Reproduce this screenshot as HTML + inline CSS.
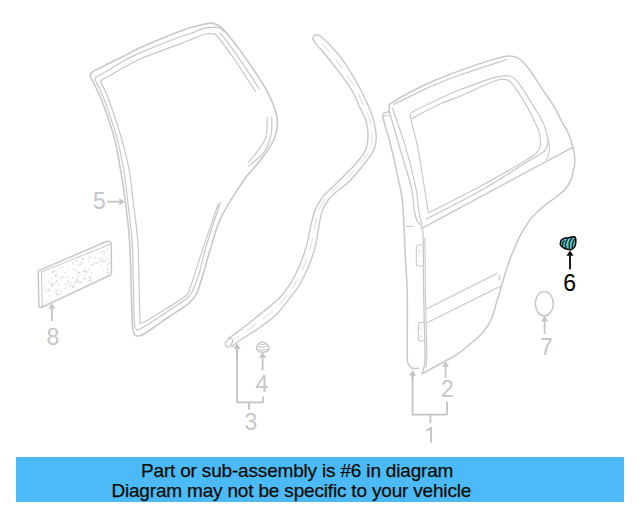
<!DOCTYPE html>
<html><head><meta charset="utf-8">
<style>
html,body{margin:0;padding:0;background:#fff;width:640px;height:512px;overflow:hidden;position:relative}
svg{position:absolute;left:0;top:0}
.banner{position:absolute;left:16px;top:457px;width:608px;height:45px;background:#4cbaf7}
.t{position:absolute;font-family:"Liberation Sans",sans-serif;font-size:19px;line-height:19px;letter-spacing:-0.18px;color:#0c0c04;white-space:nowrap;-webkit-text-stroke:0.25px #0c0c04}
</style></head><body>
<div class="banner"></div>
<div class="t" style="left:141px;top:461px">Part or sub-assembly is #6 in diagram</div>
<div class="t" style="left:111.4px;top:480.6px">Diagram may not be specific to your vehicle</div>
<svg width="640" height="512" viewBox="0 0 640 512" fill="none" stroke="#c8c8c8" stroke-width="1.4" stroke-linecap="round" stroke-linejoin="round">
<path d="M90.2 76.2 C90.0 74.7 90.0 73.9 91.6 72.6 C93.2 71.2 94.2 70.9 99.6 68.1 C105.0 65.3 117.2 59.4 124.0 56.0 C130.8 52.6 131.0 51.7 140.6 47.5 C150.2 43.3 171.4 34.5 181.3 30.8 C191.2 27.1 195.2 26.5 200.0 25.2 C204.8 23.9 207.3 23.1 210.3 23.1 C213.3 23.1 215.5 23.7 218.1 25.2 C220.7 26.7 222.8 28.7 225.9 32.2 C229.0 35.7 232.5 40.3 236.9 46.2 C241.3 52.2 247.3 60.3 252.5 68.1 C257.7 75.9 264.0 85.0 268.1 93.1 C272.2 101.2 275.7 109.5 276.9 116.7 C278.1 123.9 277.4 129.8 275.2 136.4 C273.0 143.0 268.3 149.4 263.7 156.0 C259.1 162.6 251.2 170.8 247.3 175.8 C243.4 180.8 244.4 179.0 240.0 186.0 C235.6 193.0 225.7 207.5 220.8 217.9 C215.9 228.3 213.3 239.7 210.6 248.4 C207.8 257.1 206.0 264.1 204.3 270.0 C202.6 275.9 201.6 279.6 200.2 283.7 C198.8 287.8 198.1 291.2 196.1 294.6 C194.1 298.0 192.2 300.6 187.9 304.2 C183.6 307.8 175.7 312.1 170.0 316.0 C164.3 319.9 157.8 324.7 153.7 327.5 C149.6 330.3 147.8 331.6 145.4 333.0 C143.0 334.4 140.8 335.8 139.0 336.0 C137.2 336.2 135.5 335.7 134.5 334.5 C133.5 333.3 133.2 331.4 132.8 329.0 C132.4 326.6 132.5 328.2 132.2 320.0 C131.9 311.8 131.4 293.3 131.0 280.0 C130.6 266.7 130.4 253.2 129.5 240.0 C128.6 226.8 126.8 212.7 125.3 201.0 C123.8 189.3 122.5 180.8 120.6 170.0 C118.7 159.2 117.0 147.8 113.8 136.0 C110.5 124.2 104.8 108.5 101.3 99.5 C97.8 90.5 94.8 85.7 93.0 81.8 C91.2 77.9 90.5 77.7 90.2 76.2Z" stroke-width="1.6"/>
<path d="M224.0 31.5 C223.4 31.0 221.7 29.3 220.5 28.6 C219.3 27.9 219.3 27.5 216.7 27.4 C214.1 27.3 209.4 27.1 205.0 28.2 C200.6 29.3 193.9 32.4 190.0 33.8 C186.1 35.1 189.5 33.2 181.3 36.3 C173.1 39.4 150.2 48.5 140.6 52.6 C131.0 56.7 129.5 57.7 124.0 60.7 C118.5 63.7 111.9 68.2 107.4 70.8 C103.0 73.4 99.4 75.3 97.3 76.6 C95.2 77.9 95.2 77.8 95.0 78.8 C94.8 79.8 95.0 79.6 96.3 82.5 C97.6 85.4 99.4 87.1 102.8 96.0 C106.1 104.9 113.0 123.7 116.5 136.0 C120.0 148.3 121.9 159.2 123.8 170.0 C125.6 180.8 126.3 189.3 127.7 201.0 C129.0 212.7 131.1 226.8 132.0 240.0 C132.9 253.2 132.9 266.3 133.3 280.0 C133.7 293.7 134.0 313.9 134.4 322.0 C134.8 330.1 135.1 327.3 136.0 328.5 C136.9 329.7 135.5 331.3 140.0 329.0 C144.5 326.7 155.2 319.6 163.0 314.5 C170.8 309.4 181.7 302.3 186.5 298.5 C191.3 294.7 190.2 295.3 192.0 291.9 C193.8 288.5 196.1 281.8 197.5 278.2 C198.9 274.6 198.9 275.0 200.2 270.0 C201.5 265.0 202.2 259.6 205.5 248.4 C208.8 237.2 217.8 210.3 220.3 202.7" stroke-width="1.2"/>
<path d="M219.5 33.2 C220.2 33.9 220.4 33.2 223.5 37.2 C226.6 41.2 232.4 48.7 238.3 57.2 C244.2 65.7 255.6 83.2 259.0 88.4" stroke-width="1.2"/>
<path d="M271.8 117.1 C271.7 120.0 272.3 128.8 271.0 134.7 C269.7 140.6 267.8 147.1 264.0 152.3 C260.2 157.5 251.0 163.7 248.4 166.0" stroke-width="1.2"/>
<path d="M255.6 91.6 C252.0 86.2 240.6 68.3 234.2 59.0 C227.8 49.7 220.6 40.2 217.0 36.0 C213.4 31.8 214.8 34.3 212.8 34.0 C210.8 33.7 208.8 33.0 205.0 34.0 C201.2 35.0 193.9 38.4 190.0 40.0 C186.1 41.6 189.5 40.3 181.3 43.4 C173.1 46.5 150.2 54.7 140.6 58.7 C131.0 62.7 128.9 64.6 124.0 67.3 C119.1 70.0 114.8 72.8 111.3 74.8 C107.8 76.8 104.7 78.2 103.0 79.3 C101.3 80.4 101.1 80.3 100.9 81.2 C100.7 82.1 100.7 82.0 101.8 84.5 C102.9 87.0 104.2 87.4 107.4 96.0 C110.6 104.6 117.2 123.7 120.8 136.0 C124.4 148.3 127.1 159.2 129.2 170.0 C131.2 180.8 131.7 189.3 133.1 201.0 C134.5 212.7 136.7 226.8 137.7 240.0 C138.7 253.2 138.6 267.0 139.0 280.0 C139.4 293.0 139.4 310.9 140.0 318.0 C140.6 325.1 138.3 324.2 142.5 322.8 C146.7 321.4 157.8 314.0 165.0 309.5 C172.2 305.0 181.5 299.2 185.5 296.0 C189.5 292.8 187.7 294.1 189.2 290.5 C190.7 286.9 193.5 277.9 194.7 274.1 C195.9 270.4 195.2 272.3 196.6 268.0 C198.0 263.7 199.4 259.1 203.0 248.4 C206.6 237.7 215.7 211.4 218.2 204.0" stroke-width="1.2"/>
<path d="M267.3 117.1 C267.1 120.3 267.5 131.1 266.0 136.6 C264.5 142.1 261.0 146.1 258.1 150.3 C255.2 154.5 250.0 160.1 248.4 162.0" stroke-width="1.2"/>
<path d="M313.9 41.0 C314.9 42.2 317.0 44.9 320.0 48.5 C323.0 52.1 327.8 57.7 331.7 62.6 C335.6 67.5 339.9 72.9 343.4 77.8 C346.9 82.7 350.2 87.4 352.8 91.9 C355.4 96.4 356.5 100.2 358.7 105.0 C360.9 109.8 364.4 115.6 366.0 120.5 C367.6 125.4 368.0 129.4 368.0 134.2 C368.0 139.0 367.7 144.6 366.0 149.2 C364.3 153.8 360.5 158.1 357.8 161.5 C355.1 164.9 353.9 165.8 350.0 169.8 C346.1 173.8 338.7 181.1 334.2 185.5 C329.7 189.9 326.3 192.5 323.2 196.4 C320.1 200.3 317.5 204.8 315.7 208.7 C313.9 212.6 313.3 216.0 312.3 219.6 C311.3 223.2 310.8 225.5 309.8 230.0 C308.8 234.5 308.1 240.5 306.4 246.4 C304.7 252.3 302.1 259.6 299.6 265.5 C297.1 271.4 294.8 276.4 291.4 281.9 C288.0 287.4 285.4 292.1 279.1 298.3 C272.8 304.5 260.8 313.5 253.8 319.2 C246.8 324.9 241.4 329.2 237.2 332.4 C233.0 335.6 230.0 337.2 228.6 338.2" stroke-width="1.4"/>
<path d="M320.7 36.2 C322.2 37.7 326.6 41.4 330.0 45.0 C333.4 48.6 337.7 53.4 341.1 57.9 C344.5 62.4 347.6 67.3 350.5 72.0 C353.4 76.7 355.8 80.5 358.7 86.0 C361.6 91.5 365.6 99.7 368.0 105.0 C370.4 110.3 371.4 112.7 372.8 117.8 C374.2 122.9 376.0 130.3 376.2 135.5 C376.4 140.7 375.9 144.9 374.2 149.2 C372.5 153.5 370.0 156.2 366.0 161.5 C362.0 166.8 354.6 175.9 350.0 180.7 C345.4 185.5 341.9 187.2 338.3 190.3 C334.8 193.4 331.3 195.9 328.7 199.2 C326.1 202.5 324.0 206.2 322.5 210.1 C321.0 214.0 320.2 218.9 319.5 222.4 C318.8 225.9 319.0 226.6 318.2 231.0 C317.4 235.4 316.3 242.9 314.6 249.1 C312.9 255.3 310.3 262.4 307.8 268.3 C305.3 274.2 302.2 280.1 299.6 284.6 C297.0 289.1 295.6 290.4 292.0 295.1 C288.4 299.8 283.2 307.5 277.9 312.9 C272.6 318.3 266.2 322.9 260.1 327.3 C254.0 331.7 245.8 336.3 241.1 339.5 C236.4 342.7 233.4 345.4 231.8 346.6" stroke-width="1.4"/>
<path d="M313.9 41 C311.5 38, 314 34, 317.3 34.8 C318.5 35, 319.8 35.5, 320.7 36.2" stroke-width="1.4"/>
<path d="M321.3 42.9 C321.9 43.5 323.6 45.4 324.9 46.8 C326.2 48.2 327.5 49.7 329.1 51.5 C330.7 53.3 332.7 55.7 334.3 57.6 C335.9 59.5 337.0 61.0 338.5 63.0 C340.0 64.9 341.7 67.3 343.2 69.4 C344.7 71.5 346.2 73.8 347.5 75.8 C348.8 77.7 349.8 79.2 350.9 81.0 C352.0 82.7 353.1 84.4 354.2 86.2 C355.3 88.1 356.5 90.3 357.4 92.1 C358.3 93.8 359.0 95.3 359.7 97.0 C360.5 98.6 361.2 100.3 361.9 101.9 C362.7 103.6 363.4 105.0 364.3 106.9 C365.1 108.7 366.3 111.1 367.2 113.1 C368.0 115.1 368.8 117.2 369.4 119.2 C370.0 121.1 370.5 123.2 370.9 125.0 C371.2 126.8 371.4 128.0 371.6 129.8 C371.8 131.6 372.1 133.7 372.1 135.8 C372.1 137.8 372.1 140.0 371.8 142.2 C371.4 144.5 370.8 147.1 370.0 149.1 C369.3 151.1 368.2 152.8 367.1 154.5 C366.1 156.2 364.7 157.9 363.6 159.4 C362.4 160.9 361.1 162.6 360.1 163.8 C359.2 165.0 358.6 165.7 357.8 166.6 C357.0 167.5 356.5 168.1 355.4 169.3 C354.3 170.5 352.9 172.0 351.1 173.9 C349.3 175.8 346.7 178.6 344.5 180.6 C342.3 182.7 339.8 184.7 337.8 186.5 C335.8 188.2 334.2 189.7 332.7 191.1 C331.2 192.4 330.0 193.4 328.8 194.6 C327.6 195.9 326.5 197.1 325.5 198.4 C324.4 199.8 323.5 201.2 322.6 202.7 C321.7 204.2 320.8 205.8 320.2 207.2 C319.5 208.5 319.0 209.5 318.5 210.9 C318.0 212.2 317.6 214.0 317.2 215.3 C316.8 216.7 316.6 217.7 316.4 218.9 C316.1 220.2 315.7 221.7 315.5 222.8 C315.2 224.0 315.1 224.7 314.8 226.0 C314.6 227.3 314.3 228.8 314.0 230.5 C313.7 232.2 313.3 234.2 312.9 236.3 C312.6 238.4 312.2 240.8 311.6 243.1 C311.1 245.4 310.5 247.7 309.8 250.1 C309.1 252.4 308.3 255.0 307.4 257.4 C306.5 259.8 305.6 262.3 304.6 264.6 C303.7 266.9 302.8 269.1 301.8 271.3 C300.8 273.4 299.9 275.3 298.8 277.5 C297.6 279.6 296.3 281.9 295.0 284.0 C293.7 286.1 292.5 287.9 291.0 290.0 C289.5 292.1 287.9 294.3 286.1 296.5 C284.3 298.7 282.8 300.7 280.1 303.5 C277.5 306.2 273.7 309.9 270.2 312.9 C266.8 315.8 262.6 318.9 259.5 321.3 C256.5 323.6 254.4 325.2 252.0 326.9 C249.6 328.7 247.2 330.4 245.0 331.9 C242.9 333.4 240.7 334.8 239.1 335.9 C237.6 337.1 236.1 338.1 235.4 338.6" stroke-width="0.9" stroke="#d6d6d6" stroke-dasharray="12 9"/>
<ellipse cx="229" cy="342.5" rx="3" ry="4.7" transform="rotate(35 229 342.5)" stroke-width="1.3"/>
<path d="M38.2 270.9 L106.5 241.5 Q111 240 111.3 245 L111.4 273.5 Q111.4 274.5 110 275.2 L42 307.3 Q38.8 308.3 38.8 305 Z" stroke-width="1.5"/>
<path d="M40.7 272.2 L110 244.4 M41.5 272.6 L42.3 306" stroke-width="1"/>
<path d="M73.4 277.6 l-0.9 0.2 M77.1 276.7 l0.8 0.5 M85.2 278.6 l0.7 0.2 M49.8 295.6 l-0.3 0.4 M108.3 272.2 l-0.5 0.9 M53.8 270.6 l-0.0 0.6 M56.1 276.2 l0.9 0.1 M72.8 285.8 l-0.1 1.1 M76.6 279.0 l0.1 0.7 M109.3 272.5 l-1.0 0.5 M64.3 272.3 l0.3 0.4 M93.9 264.0 l-0.8 0.4 M106.7 269.9 l0.7 0.0 M103.4 261.6 l-0.9 0.1 M48.6 290.9 l-0.6 0.5 M49.4 281.8 l-1.2 0.1 M51.4 278.4 l0.5 0.2 M95.8 257.3 l-0.2 0.9 M56.4 290.3 l1.0 0.4 M51.3 283.5 l0.6 0.5 M107.5 268.4 l0.7 1.1 M57.5 280.0 l-1.0 0.5 M50.6 300.5 l0.6 0.5 M94.3 261.9 l0.3 0.5 M49.7 289.0 l0.8 0.7 M68.1 277.0 l-0.9 0.1 M81.6 282.3 l0.5 0.3 M103.4 270.7 l0.5 0.5 M92.4 279.1 l1.1 0.8 M101.6 265.9 l0.1 0.6 M46.5 301.7 l0.8 0.8 M60.7 290.9 l-0.2 0.7 M55.4 290.4 l0.7 0.2 M80.6 282.4 l-0.3 0.7 M103.7 254.5 l0.7 0.0 M72.7 263.9 l0.7 0.4 M81.0 262.3 l0.5 1.2 M108.1 264.3 l-0.6 0.8 M52.7 271.7 l1.3 0.1 M89.9 280.9 l1.1 0.1 M75.5 281.4 l0.8 1.2 M48.7 288.4 l-0.9 1.0 M92.1 272.9 l-1.1 0.8 M66.9 284.1 l-1.2 0.4 M71.2 285.0 l-0.9 0.4 M84.6 267.6 l-0.3 1.0 M49.1 291.0 l-1.3 0.0 M91.4 264.8 l-0.7 0.8 M72.8 285.6 l1.1 0.3 M45.8 291.3 l0.0 0.7 M89.5 268.6 l-0.5 1.2 M60.3 267.8 l0.7 0.9 M56.9 273.8 l-1.0 0.3 M72.9 287.1 l0.6 0.9 M56.7 281.4 l-1.1 0.8 M101.3 260.3 l-0.2 0.8 M52.7 285.1 l-1.1 0.6 M90.6 280.3 l0.4 0.5 M73.2 269.7 l0.7 0.5 M84.7 270.6 l0.7 1.0 M108.0 259.1 l0.5 0.1 M100.7 251.6 l-0.6 0.8 M64.1 288.4 l0.6 0.0 M73.3 262.7 l-0.6 0.4 M52.8 272.0 l-0.4 0.8 M85.1 274.8 l-1.1 0.8 M88.4 261.0 l0.1 0.7 M44.4 288.1 l-0.4 0.5 M61.5 276.8 l-0.6 0.8 M84.1 278.1 l0.4 1.1 M102.9 251.8 l-1.1 0.2 M52.2 284.1 l-0.5 1.2 M68.5 280.1 l-1.1 0.5 M105.6 260.5 l-0.3 0.6 M91.2 276.4 l-0.5 1.0 M57.9 294.4 l-1.4 0.1 M79.1 281.4 l0.7 1.1 M99.7 260.1 l0.9 0.2 M79.9 280.3 l0.0 0.5 M96.5 253.9 l-0.5 0.4 M65.8 287.5 l0.6 0.3 M77.7 280.1 l-1.0 0.5 M105.7 261.2 l-0.6 0.1 M58.3 283.5 l0.7 0.9 M85.6 271.0 l-0.9 0.5 M64.1 276.7 l-1.2 0.6 M57.6 293.2 l-1.0 0.1 M81.1 264.2 l-0.1 0.9 M83.2 258.6 l-1.0 0.1 M70.1 285.8 l-0.2 0.9 M88.8 257.3 l-0.1 0.9 M106.6 271.9 l0.6 0.7 M52.0 283.6 l-1.1 0.7 M74.9 270.1 l0.9 0.6 M104.2 252.4 l-0.4 0.3 M56.3 275.7 l-0.4 0.7 M67.1 282.1 l1.1 0.4 M51.8 285.9 l0.5 0.5 M78.5 271.9 l0.3 0.8 M78.3 264.3 l0.9 0.6 M85.6 271.2 l-0.9 0.5 M99.7 257.0 l-0.8 0.9 M102.8 257.9 l0.7 1.1 M58.3 297.1 l-0.6 0.2 M59.5 288.7 l0.4 0.4 M98.2 262.6 l-0.5 0.4 M70.2 282.5 l0.7 0.0 M88.7 280.1 l-0.6 0.1 M77.0 281.4 l-0.0 1.1 M55.9 271.3 l0.5 0.2 M79.9 273.4 l-0.1 0.6 M55.7 275.3 l-1.2 0.7 M104.3 251.5 l1.3 0.3 M74.1 282.9 l0.5 0.8 M77.5 272.1 l-0.2 0.5 M89.8 277.8 l0.8 0.5 M92.1 264.9 l0.5 0.4 M77.1 260.8 l-1.2 0.4 M90.1 278.1 l-0.3 0.8 M83.0 271.7 l-1.2 0.1 M60.9 293.3 l-0.8 0.9 M97.1 262.7 l-1.2 0.4 M89.4 275.9 l-0.6 0.6 M90.9 256.5 l0.4 0.8 M44.4 284.7 l-0.4 1.0 M59.2 295.1 l-0.4 0.7 M87.0 271.7 l-0.1 0.8 M109.3 263.4 l-0.7 1.0 M107.7 248.1 l-0.4 1.1 M60.5 278.9 l0.7 0.1 M68.2 266.9 l0.9 0.9 M79.8 273.2 l-1.0 0.1 M109.0 263.4 l-0.5 0.3 M83.0 278.7 l1.3 0.2 M54.2 283.7 l0.8 0.5 M83.6 259.3 l-0.9 0.2 M78.3 276.4 l0.3 0.7 M86.7 271.6 l0.7 0.9 M62.9 266.8 l0.4 0.4 M54.1 292.0 l0.4 1.2" stroke="#cdcdcd" stroke-width="0.85"/>
<path d="M107.0 201.7 L119.3 201.7" stroke="#c4c4c4" stroke-width="1.8" stroke-linecap="butt"/>
<path d="M124.8 201.7 L119.3 205.2 L119.3 198.2 Z" fill="#c4c4c4" stroke="none"/>
<path d="M51.9 321.0 L51.9 308.7" stroke="#c4c4c4" stroke-width="1.8" stroke-linecap="butt"/>
<path d="M51.9 303.2 L55.4 308.7 L48.4 308.7 Z" fill="#c4c4c4" stroke="none"/>
<path d="M262.6 370.4 L262.6 357.8" stroke="#c4c4c4" stroke-width="1.8" stroke-linecap="butt"/>
<path d="M262.6 352.3 L266.2 357.8 L259.0 357.8 Z" fill="#c4c4c4" stroke="none"/>
<path d="M544.6 334.0 L544.6 321.5" stroke="#c4c4c4" stroke-width="1.8" stroke-linecap="butt"/>
<path d="M544.6 316.0 L548.1 321.5 L541.1 321.5 Z" fill="#c4c4c4" stroke="none"/>
<path d="M445.6 377.9 L445.6 366.7" stroke="#c4c4c4" stroke-width="1.8" stroke-linecap="butt"/>
<path d="M445.6 361.2 L449.1 366.7 L442.1 366.7 Z" fill="#c4c4c4" stroke="none"/>
<path d="M237.1 402.3 L237.1 348 M236.2 402.3 L263.1 402.3 L263.1 396.4 M249 402.3 L249 409.7" stroke="#c4c4c4" stroke-width="1.8" stroke-linecap="butt"/>
<path d="M237.1 360.0 L237.1 348.7" stroke="#c4c4c4" stroke-width="1.8" stroke-linecap="butt"/>
<path d="M237.1 343.2 L240.6 348.7 L233.6 348.7 Z" fill="#c4c4c4" stroke="none"/>
<path d="M412.6 414.6 L412.6 374 M411.7 414.6 L447 414.6 L447 401.5 M430.4 414.6 L430.4 423" stroke="#c4c4c4" stroke-width="1.8" stroke-linecap="butt"/>
<path d="M412.6 380.0 L412.6 375.8" stroke="#c4c4c4" stroke-width="1.8" stroke-linecap="butt"/>
<path d="M412.6 370.3 L416.1 375.8 L409.1 375.8 Z" fill="#c4c4c4" stroke="none"/>
<text x="93" y="209" font-family="Liberation Sans" font-size="23" fill="#c6c6c6" stroke="none">5</text>
<text x="46.5" y="345.3" font-family="Liberation Sans" font-size="23" fill="#c6c6c6" stroke="none">8</text>
<text x="255.4" y="392" font-family="Liberation Sans" font-size="23" fill="#c6c6c6" stroke="none">4</text>
<text x="244.5" y="430" font-family="Liberation Sans" font-size="23" fill="#c6c6c6" stroke="none">3</text>
<text x="540" y="355.4" font-family="Liberation Sans" font-size="23" fill="#c6c6c6" stroke="none">7</text>
<text x="441" y="397" font-family="Liberation Sans" font-size="23" fill="#c6c6c6" stroke="none">2</text>
<text x="563.3" y="290.8" font-family="Liberation Sans" font-size="23" fill="#000" stroke="none">6</text>
<path d="M431 442.6 L431 427.2 Q429.5 430 426.2 430.6" stroke="#c6c6c6" stroke-width="2" stroke-linecap="butt" stroke-linejoin="miter"/>
<ellipse cx="544.3" cy="303.6" rx="9" ry="12.2" stroke-width="1.5"/>
<path d="M262.2 341.6 C259 343, 256.5 345.5, 256.5 348.1 C256.5 350.8, 259.5 352.3, 262.6 352.3 C266 352.3, 269.2 350.5, 269.2 348.1 C269.2 345.5, 265.5 343, 262.2 341.6 Z" stroke-width="1.3"/>
<path d="M260 344 Q262.3 345.3 264.8 344 M257.8 346.5 Q262.5 348.3 267.3 346.3 M257 349.3 Q262.5 351 268.7 349" stroke-width="1.1"/>
<path d="M560.3 243.7 C560.4 242.9 560.7 241.4 561.1 240.6 C561.5 239.8 561.9 239.5 562.6 239.1 C563.4 238.7 564.6 238.3 565.6 238.1 C566.6 237.9 567.8 237.9 568.7 237.7 C569.6 237.5 570.3 237.2 571.2 237.1 C572.1 236.9 573.6 236.6 574.3 236.8 C575.0 237.1 575.4 237.8 575.6 238.6 C575.9 239.4 575.8 240.5 575.8 241.6 C575.8 242.7 575.7 244.1 575.3 245.2 C574.9 246.3 574.1 247.5 573.3 248.3 C572.4 249.1 571.4 249.7 570.2 249.8 C569.0 249.9 567.5 249.4 566.2 249.0 C564.9 248.6 563.5 247.8 562.6 247.2 C561.7 246.6 561.0 245.8 560.6 245.2 C560.2 244.6 560.2 244.5 560.3 243.7Z" fill="#5cc6f5" stroke="#000" stroke-width="1.5"/>
<path d="M564.1 240.9 C563.9 241.2 563.1 242.2 562.9 242.9 C562.6 243.6 562.6 244.8 562.6 245.2" stroke-width="1.5" stroke="#183c0c"/>
<path d="M567.4 239.6 C567.1 240.0 566.2 241.3 565.9 242.2 C565.6 243.1 565.4 244.3 565.4 245.2 C565.4 246.1 565.8 247.2 565.9 247.6" stroke-width="1.5" stroke="#183c0c"/>
<path d="M571.7 238.3 C571.4 238.9 570.1 240.4 569.7 241.6 C569.3 242.8 569.2 243.9 569.2 245.2 C569.2 246.5 569.5 248.6 569.5 249.3" stroke-width="1.5" stroke="#183c0c"/>
<path d="M574.5 239.3 C574.2 239.8 573.4 241.2 573.0 242.2 C572.6 243.2 572.4 244.2 572.3 245.2 C572.2 246.1 572.3 247.4 572.3 247.9" stroke-width="1.5" stroke="#183c0c"/>
<path d="M570.0 269.2 L570.0 255.8" stroke="#000" stroke-width="1.8" stroke-linecap="butt"/>
<path d="M570.0 250.6 L573.5 255.8 L566.5 255.8 Z" fill="#000" stroke="none"/>
<path d="M389.4 104.4 C392.0 102.8 398.2 98.7 405.0 95.0 C411.8 91.3 420.8 86.6 430.0 82.5 C439.2 78.4 449.2 74.5 460.0 70.6 C470.8 66.7 486.9 61.3 495.0 58.9 C503.1 56.5 504.8 56.0 508.7 55.9 C512.6 55.8 515.2 56.6 518.2 58.2 C521.2 59.9 523.4 62.3 526.4 65.8 C529.4 69.3 532.6 74.4 536.0 79.4 C539.4 84.4 543.7 91.0 546.9 95.8 C550.1 100.6 552.6 104.1 555.0 108.1 C557.4 112.1 558.9 116.0 561.0 120.0 C563.1 124.0 565.9 128.0 567.8 132.3 C569.7 136.6 571.5 141.9 572.6 146.0 C573.8 150.1 574.4 153.6 574.7 156.9 C575.0 160.2 574.7 163.8 574.5 166.0 C574.3 168.2 574.0 167.8 573.4 170.0 C572.8 172.2 572.4 176.3 571.1 179.4 C569.8 182.5 568.3 185.6 565.6 188.8 C562.9 191.9 558.6 195.0 554.7 198.1 C550.8 201.2 546.1 204.1 542.2 207.5 C538.3 210.9 534.6 214.2 531.2 218.4 C527.9 222.6 524.5 228.1 521.9 232.5 C519.3 236.9 518.1 239.7 515.8 245.0 C513.5 250.3 510.3 258.0 508.0 264.5 C505.7 271.0 504.1 277.5 502.1 284.0 C500.1 290.5 498.2 297.4 496.2 303.6 C494.3 309.8 493.0 316.0 490.4 321.2 C487.8 326.4 484.2 330.8 480.6 334.8 C477.0 338.8 473.0 341.6 468.9 345.0 C464.8 348.4 463.8 350.2 456.0 355.0 C448.2 359.8 427.7 370.6 422.0 373.7" stroke-width="1.5"/>
<path d="M389.4 104.4 L389.2 111.5 L383.6 113.4 Q382.5 114 382.8 116" stroke-width="1.4"/>
<path d="M382.8 116.0 C383.3 118.2 384.7 124.2 386.0 129.0 C387.3 133.8 389.2 139.2 390.6 144.7 C392.0 150.2 392.7 153.6 394.5 162.0 C396.3 170.4 400.1 185.8 401.6 195.2 C403.1 204.6 403.0 207.8 403.6 218.6 C404.2 229.4 404.9 247.3 405.5 260.0 C406.1 272.7 407.0 278.8 407.3 294.6 C407.6 310.4 407.1 343.4 407.3 355.0 C407.5 366.6 407.7 361.8 408.5 364.0 C409.3 366.2 410.6 367.5 412.3 368.2 C414.0 368.9 417.6 368.2 418.6 368.2" stroke-width="1.5"/>
<path d="M389.2 111.5 C390.2 114.8 393.0 124.0 395.0 131.0 C397.0 138.0 398.6 144.0 401.4 153.6 C404.2 163.2 409.4 178.9 411.6 188.7 C413.8 198.5 413.5 206.7 414.5 212.2 C415.5 217.7 416.3 219.1 417.5 221.5 C418.7 223.9 421.0 224.0 421.9 226.8 C422.8 229.6 422.8 226.8 423.1 238.1 C423.4 249.4 423.4 275.2 423.7 294.6 C424.0 314.1 425.0 342.4 425.0 354.8 C425.0 367.2 424.0 365.9 423.5 369.0 C423.0 372.1 422.2 372.9 422.0 373.7" stroke-width="1.3"/>
<path d="M424.9 238.0 C425.0 247.4 425.2 275.1 425.5 294.6 C425.8 314.1 426.8 342.6 426.8 354.8 C426.8 367.0 425.7 365.8 425.5 368.0" stroke-width="1.1"/>
<path d="M393.8 104.4 C399.8 101.5 419.0 91.8 430.0 86.9 C441.0 82.0 447.2 79.6 460.0 75.0 C472.8 70.4 499.2 62.1 507.0 59.5" stroke-width="1.2"/>
<path d="M384.4 115.8 C385.2 115.8 388.2 115.8 389.0 115.8" stroke-width="1"/>
<path d="M421.9 223.9 C421.4 221.9 419.9 218.1 418.9 212.2 C417.9 206.3 418.2 199.4 416.0 188.7 C413.8 177.9 409.7 161.1 405.8 147.7 C401.9 134.3 394.8 114.8 392.6 108.2" stroke-width="1.2"/>
<path d="M426.3 219.1 C435.2 214.4 464.4 199.8 480.0 191.0 C495.6 182.2 510.4 172.4 520.0 166.5 C529.6 160.6 533.6 158.3 537.8 155.6 C542.0 152.9 543.6 152.4 545.3 150.1 C547.0 147.8 547.8 144.6 548.0 141.9 C548.2 139.2 547.6 137.1 546.6 133.7 C545.7 130.3 545.2 126.8 542.5 121.4 C539.9 116.0 534.1 107.2 530.5 101.3 C526.9 95.4 523.7 90.2 521.0 86.3 C518.3 82.4 516.1 79.8 514.1 78.1 C512.1 76.4 511.9 76.1 508.7 76.0 C505.5 75.9 503.1 75.1 495.0 77.4 C486.9 79.7 469.2 86.3 460.0 89.8 C450.8 93.3 447.7 94.9 440.0 98.5 C432.3 102.1 418.6 108.6 413.8 111.2 C408.9 113.9 411.2 113.4 410.6 114.5 C410.0 115.6 410.4 117.4 410.4 118.0" stroke-width="1.2"/>
<path d="M428.4 213.0 C426.7 202.5 421.0 165.3 418.2 150.0 C415.4 134.7 412.2 126.4 411.5 121.0 C410.8 115.6 409.2 120.3 414.0 117.5 C418.8 114.7 432.3 107.5 440.0 104.0 C447.7 100.5 450.8 100.1 460.0 96.2 C469.2 92.4 487.6 83.6 495.0 80.8 C502.4 78.0 502.1 79.3 504.6 79.4 C507.1 79.5 507.9 79.7 510.0 81.5 C512.0 83.3 514.2 86.4 516.9 90.4 C519.6 94.4 523.6 100.5 526.4 105.4 C529.2 110.3 531.6 115.5 533.7 120.0 C535.8 124.5 538.0 128.2 539.1 132.3 C540.2 136.4 540.7 141.4 540.5 144.6 C540.3 147.8 539.2 149.5 537.8 151.5 C536.4 153.5 535.0 154.4 532.0 156.5 C529.0 158.6 528.7 159.0 520.0 164.0 C511.3 169.0 495.3 178.3 480.0 186.5 C464.7 194.7 437.0 208.6 428.4 213.0" stroke-width="1.2"/>
<path d="M548.7 139.2 C548.8 141.0 549.7 146.7 549.4 150.1 C549.1 153.5 547.1 158.1 546.6 159.7" stroke-width="1"/>
<path d="M421.25 228.6 L572.6 147.4" stroke-width="1.3"/>
<path d="M427.5 308.5 L497.2 273.3 M427.5 322.5 L501.1 286 M499.2 275 L499.2 280" stroke-width="1.2"/>
<path d="M406.5 226.4 L413.3 226.4" stroke-width="1"/>
<path d="M422.2 245 L418.6 245 Q416.3 245 416.3 247.5 L416.3 263.5 Q416.3 266 418.6 266 L422.5 266 M419 250.8 l0 0.6 M419 261.2 l0 0.6" stroke-width="1.1"/>
<path d="M423.6 322.5 L420.6 322.5 Q418.3 322.5 418.3 325 L418.3 338.5 Q418.3 341 420.6 341 L423.9 341 M420.8 328 l0 0.6 M420.8 336 l0 0.6" stroke-width="1.1"/>
</svg>
</body></html>
